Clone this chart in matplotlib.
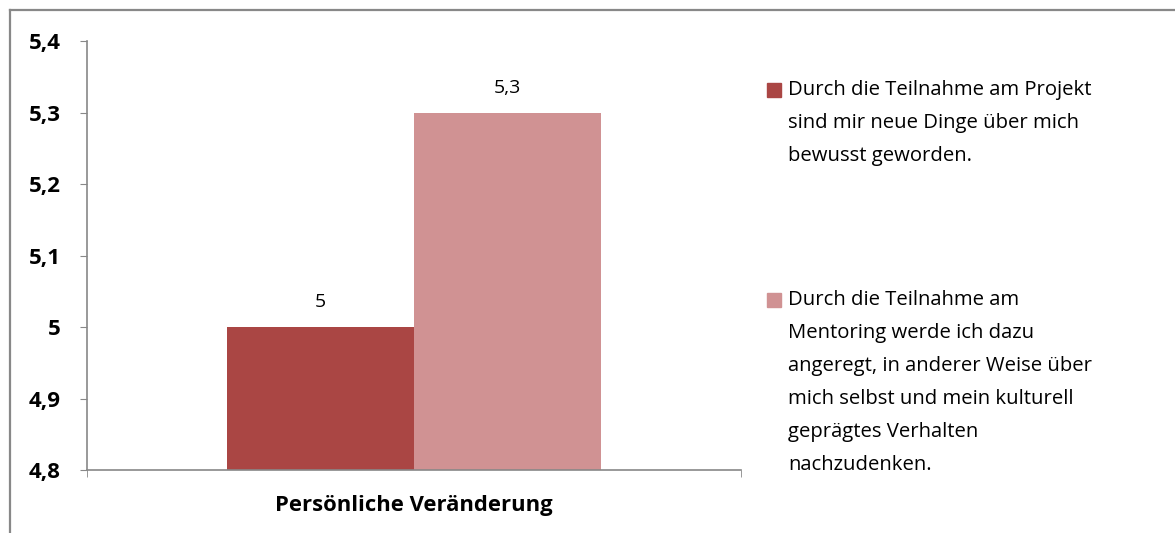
import matplotlib
matplotlib.use("Agg")
import matplotlib.pyplot as plt
from matplotlib.lines import Line2D
from matplotlib.patches import Rectangle

categories = ["Persönliche Veränderung"]
series_labels = [
    "Durch die Teilnahme am Projekt\nsind mir neue Dinge über mich\nbewusst geworden.",
    "Durch die Teilnahme am\nMentoring werde ich dazu\nangeregt, in anderer Weise über\nmich selbst und mein kulturell\ngeprägtes Verhalten\nnachzudenken.",
]
series_values = [[5.0], [5.3]]
colors = ["#AA4644", "#D09293"]
yticks = [4.8, 4.9, 5.0, 5.1, 5.2, 5.3, 5.4]

FONT = "Open Sans"
W, H = 1175, 533
fig = plt.figure(figsize=(W / 100, H / 100), dpi=100)
ax = fig.add_axes([87 / W, 1 - 470 / H, (741 - 87) / W, (470 - 41) / H])


def de(v):
    return f"{v:g}".replace(".", ",")


bar_w = 0.286
n = len(series_values)
for i, (vals, col) in enumerate(zip(series_values, colors)):
    xs = [c + (i - (n - 1) / 2) * bar_w for c in range(len(categories))]
    bottom = yticks[0]
    ax.bar(xs, [v - bottom for v in vals], bottom=bottom, width=bar_w, color=col, zorder=2)
    for x, v in zip(xs, vals):
        ax.annotate(de(v), (x, v), xytext=(0, 18), textcoords="offset points",
                    ha="center", va="center", fontsize=14, family=FONT, color="#000000")

ax.set_xlim(-0.5, len(categories) - 0.5)
ax.set_ylim(yticks[0], yticks[-1])
ax.set_yticks(yticks)
ax.set_yticklabels([de(round(t, 1)) for t in yticks], fontsize=16, fontweight="bold", family=FONT)
ax.set_xticks(range(len(categories)))
ax.set_xticklabels(categories, fontsize=15.8, fontweight="bold", family=FONT)
ax.tick_params(axis="x", length=0, pad=18)
ax.set_xticks([-0.5, len(categories) - 0.5], minor=True)
ax.tick_params(axis="x", which="minor", length=5, color="#888888", direction="out")
ax.tick_params(axis="y", length=5, color="#888888", direction="out", pad=14)
for s in ["top", "right"]:
    ax.spines[s].set_visible(False)
for s in ["left", "bottom"]:
    ax.spines[s].set_color("#888888")
    ax.spines[s].set_linewidth(1.2)

# outer chart border (top & left visible)
fig.add_artist(Line2D([10 / W, 10 / W], [0, 1 - 10 / H], transform=fig.transFigure, color="#888888", lw=1.6))
fig.add_artist(Line2D([10 / W, 1], [1 - 10 / H, 1 - 10 / H], transform=fig.transFigure, color="#888888", lw=1.6))

# legend
line_h = 33
starts = [90, 300]
for lab, col, y0 in zip(series_labels, colors, starts):
    fig.add_artist(Rectangle((767 / W, 1 - (y0 + 7) / H), 14 / W, 14 / H, transform=fig.transFigure,
                             color=col))
    for k, line in enumerate(lab.split("\n")):
        fig.text(788 / W, 1 - (y0 + k * line_h) / H, line, ha="left", va="center",
                 fontsize=14.6, family=FONT, color="#000000")

fig.savefig("out.png", dpi=100)
